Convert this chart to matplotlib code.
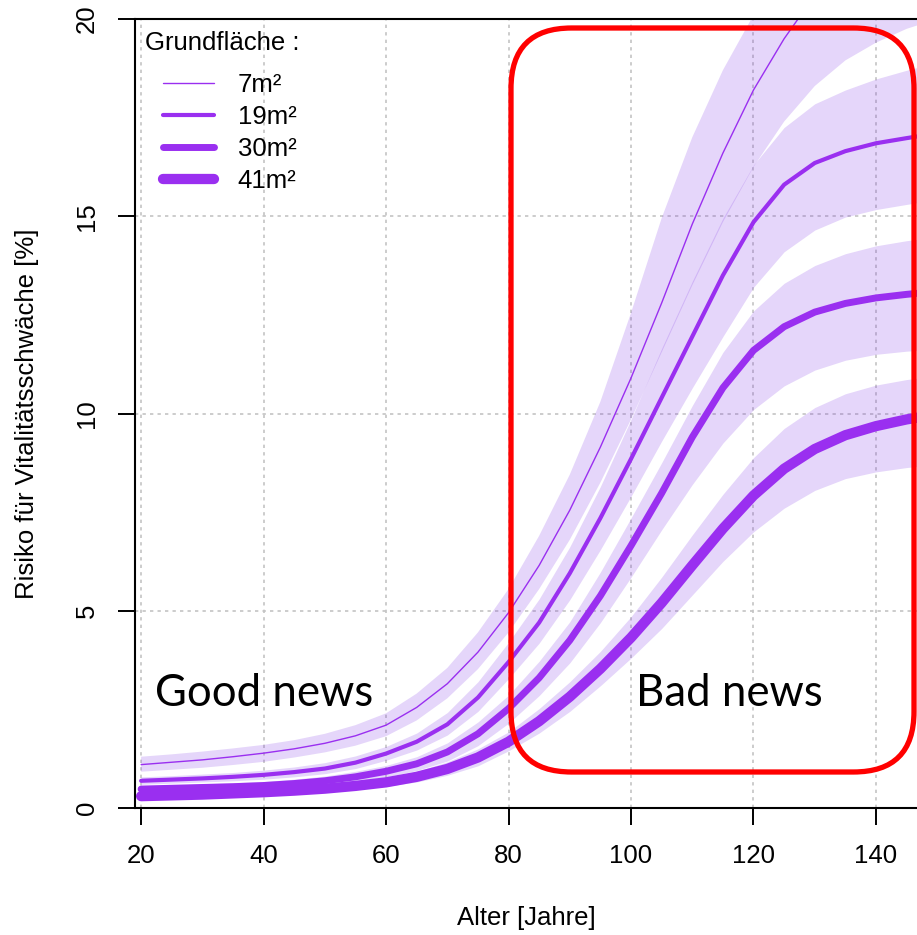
import matplotlib
matplotlib.use("Agg")
import matplotlib.pyplot as plt
from matplotlib.patches import FancyBboxPatch

plt.rcParams["font.family"] = ["Liberation Sans", "DejaVu Sans"]

# Alter [Jahre]
alter = [20, 25, 30, 35, 40, 45, 50, 55, 60, 65, 70, 75, 80, 85, 90, 95,
         100, 105, 110, 115, 120, 125, 130, 135, 140, 145, 147]

labels = ["7m²", "19m²", "30m²", "41m²"]

# Risiko [%] - Schaetzer, untere und obere Grenze
risk_7 = [1.10, 1.16, 1.22, 1.30, 1.39, 1.50, 1.64, 1.83, 2.10, 2.55, 3.15, 3.95, 4.95, 6.15,
          7.55, 9.15, 10.9, 12.8, 14.8, 16.6, 18.2, 19.5, 20.6, 21.5, 22.3, 22.9, 23.1]
low_7 = [0.92, 0.97, 1.02, 1.09, 1.17, 1.28, 1.41, 1.58, 1.82, 2.22, 2.78, 3.52, 4.45, 5.55,
         6.80, 8.25, 9.85, 11.55, 13.25, 14.85, 16.25, 17.4, 18.3, 18.95, 19.4, 19.75, 19.85]
up_7 = [1.30, 1.36, 1.43, 1.51, 1.60, 1.72, 1.88, 2.10, 2.40, 2.90, 3.55, 4.45, 5.55, 6.90,
        8.45, 10.3, 12.55, 14.95, 17.0, 18.7, 20.1, 21.4, 22.5, 23.4, 24.2, 24.8, 25.0]

risk_19 = [0.69, 0.72, 0.75, 0.79, 0.84, 0.91, 1.00, 1.15, 1.38, 1.68, 2.12, 2.80, 3.70, 4.70,
           5.95, 7.35, 8.85, 10.4, 11.95, 13.5, 14.85, 15.8, 16.35, 16.65, 16.85, 16.98, 17.03]
low_19 = [0.60, 0.63, 0.66, 0.69, 0.73, 0.79, 0.87, 1.00, 1.21, 1.47, 1.85, 2.45, 3.28, 4.18,
          5.28, 6.55, 7.90, 9.30, 10.65, 11.95, 13.2, 14.1, 14.65, 14.98, 15.17, 15.3, 15.35]
up_19 = [0.79, 0.82, 0.86, 0.90, 0.96, 1.04, 1.15, 1.32, 1.56, 1.90, 2.42, 3.20, 4.20, 5.30,
         6.62, 8.15, 9.85, 11.65, 13.35, 14.95, 16.3, 17.25, 17.85, 18.2, 18.48, 18.7, 18.78]

risk_30 = [0.48, 0.50, 0.52, 0.54, 0.57, 0.62, 0.69, 0.79, 0.93, 1.12, 1.42, 1.88, 2.52, 3.30,
           4.25, 5.38, 6.65, 7.98, 9.40, 10.65, 11.6, 12.2, 12.57, 12.79, 12.93, 13.02, 13.05]
low_30 = [0.40, 0.42, 0.44, 0.46, 0.49, 0.53, 0.59, 0.67, 0.79, 0.95, 1.19, 1.58, 2.15, 2.85,
          3.68, 4.70, 5.85, 7.05, 8.20, 9.25, 10.1, 10.7, 11.1, 11.35, 11.5, 11.58, 11.6]
up_30 = [0.56, 0.58, 0.61, 0.64, 0.67, 0.73, 0.81, 0.93, 1.08, 1.30, 1.65, 2.18, 2.86, 3.72,
         4.72, 5.98, 7.35, 8.75, 10.2, 11.55, 12.6, 13.3, 13.75, 14.05, 14.25, 14.38, 14.42]

risk_41 = [0.30, 0.32, 0.34, 0.37, 0.40, 0.44, 0.49, 0.56, 0.65, 0.79, 0.99, 1.28, 1.68, 2.20,
           2.82, 3.53, 4.32, 5.20, 6.15, 7.08, 7.92, 8.60, 9.10, 9.45, 9.68, 9.85, 9.90]
low_41 = [0.24, 0.26, 0.28, 0.31, 0.34, 0.37, 0.41, 0.47, 0.55, 0.66, 0.83, 1.07, 1.45, 1.90,
          2.45, 3.10, 3.80, 4.55, 5.40, 6.25, 7.00, 7.60, 8.05, 8.35, 8.52, 8.63, 8.66]
up_41 = [0.36, 0.38, 0.40, 0.43, 0.46, 0.51, 0.57, 0.65, 0.76, 0.93, 1.17, 1.50, 1.93, 2.52,
         3.20, 3.97, 4.85, 5.85, 6.92, 7.95, 8.88, 9.62, 10.15, 10.5, 10.72, 10.86, 10.9]

xticks = [20, 40, 60, 80, 100, 120, 140]
yticks = [0, 5, 10, 15, 20]

LINE = "#9a2ff0"
BAND = "#7d32e6"
FS = 18.5

series = [
    (risk_7, low_7, up_7, 1.0),
    (risk_19, low_19, up_19, 3.0),
    (risk_30, low_30, up_30, 5.0),
    (risk_41, low_41, up_41, 7.4),
]

W, H = 917, 935
fig = plt.figure(figsize=(W / 100, H / 100), dpi=100)
ax = fig.add_axes([135 / W, 1 - 808 / H, 1 - 135 / W, (808 - 19) / H])

for mean, lo, hi, lw in series:
    ax.fill_between(alter, lo, hi, color=BAND, alpha=0.2, lw=0)

handles = []
for (mean, lo, hi, lw), lab in zip(series, labels):
    (h,) = ax.plot(alter, mean, color=LINE, lw=lw, solid_capstyle="round",
                   solid_joinstyle="round", label=lab)
    handles.append(h)

ax.set_xlim(19.0, 146.7)
ax.set_ylim(0, 20)
ax.set_xticks(xticks)
ax.set_yticks(yticks)
ax.tick_params(direction="out", length=12, width=1.4, labelsize=FS, pad=14)
for t in ax.get_yticklabels():
    t.set_rotation(90)
    t.set_va("center")
ax.grid(True, color="#c4c4c4", lw=1.2, linestyle=(0, (2, 2.5)))
ax.set_axisbelow(True)
for s in ["left", "top", "bottom"]:
    ax.spines[s].set_linewidth(1.5)
ax.spines["right"].set_visible(False)

ax.set_xlabel("Alter [Jahre]", fontsize=FS, labelpad=27)
ax.set_ylabel("Risiko für Vitalitätsschwäche [%]", fontsize=FS, labelpad=26)

# Legende
fig.text(145 / W, 1 - 43 / H, "Grundfläche :", fontsize=FS, ha="left", va="center")
leg = ax.legend(handles=handles, loc="upper left",
                bbox_to_anchor=(163 / W, 1 - 73 / H), bbox_transform=fig.transFigure,
                frameon=False, fontsize=FS, handlelength=2.0, handletextpad=0.9,
                labelspacing=0.31, borderpad=0, borderaxespad=0)
for lh in leg.get_lines():
    lh.set_solid_capstyle("round")

# Annotation
fig.text(155 / W, 1 - 693 / H, "Good news", fontsize=31.5, family="Lato",
         ha="left", va="center")
fig.text(636 / W, 1 - 693 / H, "Bad news", fontsize=31.5, family="Lato",
         ha="left", va="center")
box = FancyBboxPatch((511 / W, 1 - 772 / H), (914 - 511) / W, (772 - 28) / H,
                     boxstyle="round,pad=0,rounding_size=0.066",
                     mutation_aspect=W / H, transform=fig.transFigure,
                     fill=False, ec="#ff0000", lw=3.8, zorder=10)
fig.patches.append(box)

fig.savefig("out.png", dpi=100)
